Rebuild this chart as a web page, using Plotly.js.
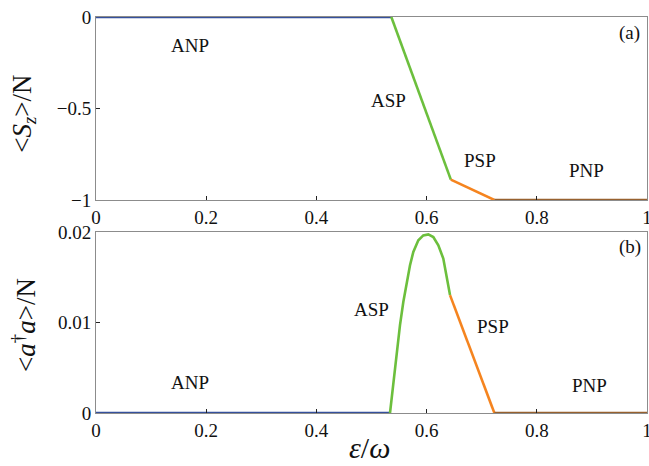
<!DOCTYPE html>
<html>
<head>
<meta charset="utf-8">
<script src="https://cdn.plot.ly/plotly-3.0.1.min.js"></script>
<style>html,body{margin:0;padding:0;background:#fff}#chart{width:649px;height:466px}</style>
</head>
<body>
<div id="chart"></div>
<script>
// Panel (a): <Sz>/N
const szANP_x = [0, 0.536];
const szANP_y = [0, 0];
const szASP_x = [0.536, 0.644];
const szASP_y = [0, -0.889];
const szPSP_x = [0.644, 0.723];
const szPSP_y = [-0.889, -1];
const szPNP_x = [0.723, 1];
const szPNP_y = [-1, -1];

// Panel (b): <a†a>/N
const nANP_x = [0, 0.5336];
const nANP_y = [0, 0];
const nASP_x = [0.5336, 0.5396, 0.5457, 0.5517, 0.5578, 0.5638, 0.5699, 0.5759, 0.5850, 0.5940, 0.6031, 0.6122, 0.6213, 0.6303, 0.6364, 0.6425];
const nASP_y = [0, 0.00312, 0.00679, 0.00972, 0.01229, 0.01449, 0.01633, 0.01780, 0.01908, 0.01963, 0.01974, 0.01945, 0.01853, 0.01707, 0.01523, 0.01303];
const nPSP_x = [0.6425, 0.723];
const nPSP_y = [0.01303, 0];
const nPNP_x = [0.723, 1];
const nPNP_y = [0, 0];

const xTicks = [0, 0.2, 0.4, 0.6, 0.8, 1];
const xTickText = ['0', '0.2', '0.4', '0.6', '0.8', '1'];
const yTicksA = [-1, -0.5, 0];
const yTickTextA = ['\u22121', '\u22120.5', '0'];
const yTicksB = [0, 0.01, 0.02];
const yTickTextB = ['0', '0.01', '0.02'];

const cBlue = '#35509c', cGreen = '#6cbf3d', cOrange = '#f5841f', cBrown = '#97612f';
const lw = 2.6;
function tr(x, y, c, ax) {
  return {x: x, y: y, xaxis: ax === 1 ? 'x' : 'x2', yaxis: ax === 1 ? 'y' : 'y2',
    mode: 'lines', line: {color: c, width: lw}, cliponaxis: false, hoverinfo: 'skip', showlegend: false};
}
const data = [
  tr(szANP_x, szANP_y, cBlue, 1), tr(szASP_x, szASP_y, cGreen, 1),
  tr(szPSP_x, szPSP_y, cOrange, 1), tr(szPNP_x, szPNP_y, cBrown, 1),
  tr(nANP_x, nANP_y, cBlue, 2), tr(nASP_x, nASP_y, cGreen, 2),
  tr(nPSP_x, nPSP_y, cOrange, 2), tr(nPNP_x, nPNP_y, cBrown, 2)
];

const serif = "'Liberation Serif', 'Times New Roman', serif";
const axCommon = {
  showgrid: false, zeroline: false, showline: true, mirror: true,
  linecolor: '#8c8c8c', linewidth: 1,
  ticks: 'inside', ticklen: 4, tickcolor: '#222', tickwidth: 1,
  ticklabeloverflow: 'allow',
  tickfont: {family: serif, size: 19, color: '#111'}
};
function ann(text, x, y, ax, size) {
  return {text: text, x: x, y: y, xref: ax === 1 ? 'x' : 'x2', yref: ax === 1 ? 'y' : 'y2',
    showarrow: false, font: {family: serif, size: size || 19, color: '#111'}};
}
const xr = [-0.000001, 1.000001];
const layout = {
  width: 649, height: 466,
  margin: {l: 96, r: 2, t: 17, b: 53},
  paper_bgcolor: '#fff', plot_bgcolor: '#fff',
  xaxis: Object.assign({}, axCommon, {range: xr, tickvals: xTicks, ticktext: xTickText, anchor: 'y'}),
  yaxis: Object.assign({}, axCommon, {range: [-1, 0], tickvals: yTicksA, ticktext: yTickTextA, domain: [0.538, 1], anchor: 'x'}),
  xaxis2: Object.assign({}, axCommon, {range: xr, tickvals: xTicks, ticktext: xTickText, anchor: 'y2'}),
  yaxis2: Object.assign({}, axCommon, {range: [0, 0.02], tickvals: yTicksB, ticktext: yTickTextB, domain: [0, 0.457], anchor: 'x2'}),
  annotations: [
    ann('ANP', 0.171, -0.155, 1), ann('ASP', 0.531, -0.457, 1), ann('PSP', 0.697, -0.785, 1),
    ann('PNP', 0.890, -0.84, 1), ann('(a)', 0.969, -0.09, 1),
    ann('ANP', 0.171, 0.0034, 2), ann('ASP', 0.5, 0.0114, 2), ann('PSP', 0.721, 0.0096, 2),
    ann('PNP', 0.896, 0.0030, 2), ann('(b)', 0.969, 0.0184, 2),
    {text: '&lt;<i>S</i><sub><i>z</i></sub>&gt;/N', xref: 'paper', yref: 'paper', x: -0.131, y: 0.755,
     xanchor: 'center', yanchor: 'middle',
     textangle: -90, showarrow: false, font: {family: serif, size: 27, color: '#111'}},
    {text: '&lt;<i>a</i><sup>\u2020</sup><i>a</i>&gt;/N', xref: 'paper', yref: 'paper', x: -0.131, y: 0.222,
     xanchor: 'center', yanchor: 'middle',
     textangle: -90, showarrow: false, font: {family: serif, size: 27, color: '#111'}},
    {text: '<i>\u03b5</i>/<i>\u03c9</i>', xref: 'paper', yref: 'paper', x: 0.497, y: -0.088,
     xanchor: 'center', yanchor: 'middle',
     showarrow: false, font: {family: serif, size: 30, color: '#111'}}
  ]
};
Plotly.newPlot('chart', data, layout, {staticPlot: true});
</script>
</body>
</html>
